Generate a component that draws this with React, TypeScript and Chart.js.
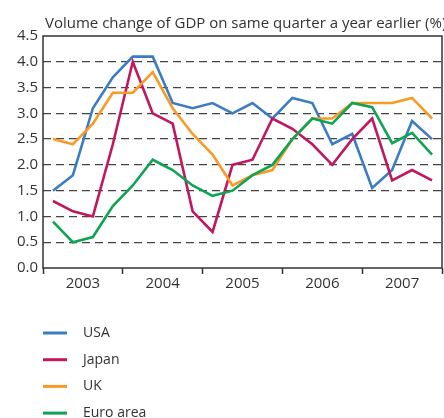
import React, { useEffect, useRef } from "react";
import { Chart, registerables } from "chart.js";

Chart.register(...registerables);

const years = ["2003", "2004", "2005", "2006", "2007"];
const quartersPerYear = 4;
const seriesNames = ["USA", "Japan", "UK", "Euro area"];
const seriesColors = ["#3b7cc4", "#c0175f", "#f99a27", "#0fa453"];
const usa = [1.5, 1.8, 3.1, 3.7, 4.1, 4.1, 3.2, 3.1, 3.2, 3.0, 3.2, 2.9, 3.3, 3.2, 2.4, 2.6, 1.55, 1.9, 2.85, 2.5];
const japan = [1.3, 1.1, 1.0, 2.4, 4.0, 3.0, 2.8, 1.1, 0.7, 2.0, 2.1, 2.9, 2.7, 2.4, 2.0, 2.5, 2.9, 1.7, 1.9, 1.7];
const uk = [2.5, 2.4, 2.8, 3.4, 3.4, 3.8, 3.1, 2.6, 2.2, 1.6, 1.8, 1.9, 2.5, 2.9, 2.9, 3.2, 3.2, 3.2, 3.3, 2.9];
const euroArea = [0.9, 0.5, 0.6, 1.2, 1.6, 2.1, 1.9, 1.6, 1.4, 1.5, 1.8, 2.0, 2.5, 2.9, 2.8, 3.2, 3.12, 2.42, 2.62, 2.2];
const yTicks = [0, 0.5, 1.0, 1.5, 2.0, 2.5, 3.0, 3.5, 4.0, 4.5];
const title = "Volume change of GDP on same quarter a year earlier (%)";

const FONT = "'Open Sans', 'DejaVu Sans', sans-serif";
const TEXT = "#333333";

export default function App() {
  const ref = useRef<HTMLCanvasElement | null>(null);
  useEffect(() => {
    document.body.style.margin = "0";
    const canvas = ref.current;
    if (!canvas) return;
    const allSeries = [usa, japan, uk, euroArea];
    const datasets = allSeries.map((s, k) => ({
      label: seriesNames[k],
      data: s.map((v, i) => ({ x: i + 0.5, y: v })),
      borderColor: seriesColors[k],
      backgroundColor: seriesColors[k],
      borderWidth: 2.6,
      pointRadius: 0,
      tension: 0,
      fill: false,
      order: 3 - k,
    }));
    const totalQ = years.length * quartersPerYear;

    const framePlugin = {
      id: "frame",
      beforeDatasetsDraw(chart: any) {
        const { ctx, chartArea: a } = chart;
        ctx.save();
        ctx.strokeStyle = "#333";
        ctx.lineWidth = 1.5;
        ctx.strokeRect(a.left, a.top, a.right - a.left, a.bottom - a.top);
        ctx.restore();
      },
      afterDraw(chart: any) {
        const { ctx, chartArea: a } = chart;
        ctx.save();
        ctx.font = `15px ${FONT}`;
        ctx.fillStyle = TEXT;
        ctx.textBaseline = "alphabetic";
        ctx.textAlign = "left";
        ctx.fillText(title, a.left + 2, a.top - 8);
        // legend
        ctx.font = `14px ${FONT}`;
        ctx.textBaseline = "middle";
        chart.data.datasets.forEach((ds: any, k: number) => {
          const y = a.bottom + 65 + k * 26.7;
          ctx.strokeStyle = ds.borderColor;
          ctx.lineWidth = 3;
          ctx.beginPath();
          ctx.moveTo(a.left, y);
          ctx.lineTo(a.left + 24, y);
          ctx.stroke();
          ctx.fillStyle = TEXT;
          ctx.fillText(ds.label, a.left + 40, y);
        });
        ctx.restore();
      },
    };

    const chart = new Chart(canvas, {
      type: "line",
      data: { datasets },
      options: {
        animation: false,
        responsive: false,
        layout: { padding: { top: 36, right: 2, left: 0, bottom: 0 } },
        plugins: { legend: { display: false }, tooltip: { enabled: false } },
        scales: {
          x: {
            type: "linear",
            min: 0,
            max: totalQ,
            afterBuildTicks: (scale: any) => {
              const t = [];
              for (let v = 0; v <= totalQ; v += quartersPerYear / 2) t.push({ value: v });
              scale.ticks = t;
            },
            afterFit: (scale: any) => {
              scale.height = 150;
            },
            border: { display: false },
            grid: {
              drawOnChartArea: false,
              drawTicks: true,
              tickLength: 6,
              tickWidth: 1.5,
              tickColor: (ctx: any) =>
                ctx.tick && ctx.tick.value % quartersPerYear === 0 ? "#333" : "rgba(0,0,0,0)",
            },
            ticks: {
              autoSkip: false,
              maxRotation: 0,
              padding: 1,
              color: TEXT,
              font: { family: FONT, size: 15 },
              callback: (v: any) => {
                const n = Number(v);
                if (n % quartersPerYear === quartersPerYear / 2) return years[(n - quartersPerYear / 2) / quartersPerYear];
                return "";
              },
            },
          },
          y: {
            min: 0,
            max: 4.5,
            afterBuildTicks: (scale: any) => {
              scale.ticks = yTicks.map((v) => ({ value: v }));
            },
            afterFit: (scale: any) => {
              scale.width = 43;
            },
            border: { display: false, dash: [8, 5] },
            grid: {
              drawTicks: false,
              lineWidth: 1.3,
              color: (ctx: any) =>
                ctx.tick && (ctx.tick.value === 0 || ctx.tick.value === 4.5) ? "rgba(0,0,0,0)" : "#444",
            },
            ticks: {
              padding: 5,
              color: TEXT,
              font: { family: FONT, size: 15 },
              callback: (v: any) => Number(v).toFixed(1),
            },
          },
        },
      },
      plugins: [framePlugin],
    } as any);
    return () => chart.destroy();
  }, []);
  return <canvas ref={ref} width={444} height={418} style={{ display: "block" }} />;
}
